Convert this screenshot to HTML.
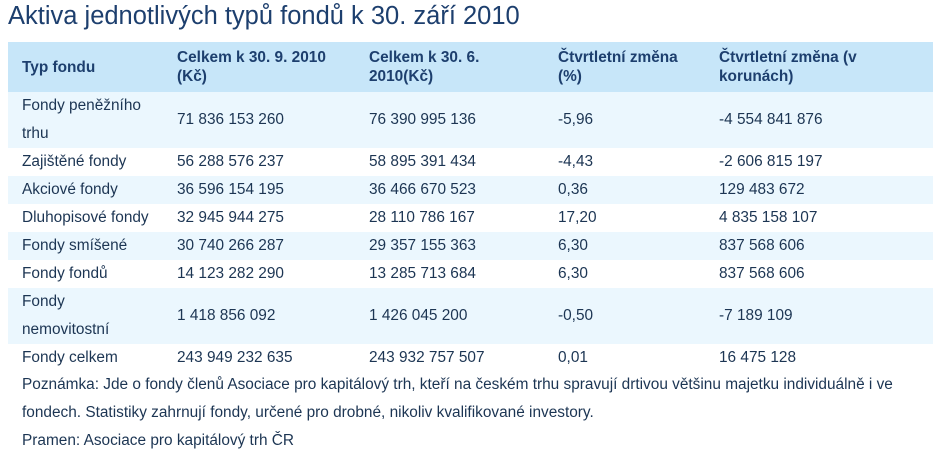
<!DOCTYPE html>
<html><head><meta charset="utf-8"><style>
body{margin:0;width:946px;height:460px;background:#fff;font-family:"Liberation Sans",Arial,sans-serif;color:#1c3553;position:relative;overflow:hidden}
.t{position:absolute;left:8px;top:2px;font-size:25.5px;color:#1d3f6e;white-space:nowrap}
.r{position:absolute;left:8px;width:925px}
.c{position:absolute;font-size:15.4px;line-height:28px;white-space:nowrap}
.h .c{font-weight:bold;line-height:19px;color:#1d3f6e;font-size:15.4px}
</style></head><body>
<div class="t">Aktiva jednotlivých typů fondů k 30. září 2010</div>
<div class="r h" style="top:42px;height:50px;background:#c7e6f9">
<div class="c" style="left:14px;top:16px">Typ fondu</div>
<div class="c" style="left:169px;top:6px">Celkem k 30. 9. 2010<br>(Kč)</div>
<div class="c" style="left:361px;top:6px">Celkem k 30. 6.<br>2010(Kč)</div>
<div class="c" style="left:550px;top:6px">Čtvrtletní změna<br>(%)</div>
<div class="c" style="left:711px;top:6px">Čtvrtletní změna (v<br>korunách)</div>
</div>
<div id="rows"></div>
<div class="c" style="left:22px;top:371px">Poznámka: Jde o fondy členů Asociace pro kapitálový trh, kteří na českém trhu spravují drtivou většinu majetku individuálně i ve</div>
<div class="c" style="left:22px;top:399px">fondech. Statistiky zahrnují fondy, určené pro drobné, nikoliv kvalifikované investory.</div>
<div class="c" style="left:22px;top:427px">Pramen: Asociace pro kapitálový trh ČR</div>
<script>
const names=["Fondy peněžního<br>trhu","Zajištěné fondy","Akciové fondy","Dluhopisové fondy","Fondy smíšené","Fondy fondů","Fondy<br>nemovitostní","Fondy celkem"];
const sep=["71 836 153 260","56 288 576 237","36 596 154 195","32 945 944 275","30 740 266 287","14 123 282 290","1 418 856 092","243 949 232 635"];
const jun=["76 390 995 136","58 895 391 434","36 466 670 523","28 110 786 167","29 357 155 363","13 285 713 684","1 426 045 200","243 932 757 507"];
const pct=["-5,96","-4,43","0,36","17,20","6,30","6,30","-0,50","0,01"];
const kc=["-4 554 841 876","-2 606 815 197","129 483 672","4 835 158 107","837 568 606","837 568 606","-7 189 109","16 475 128"];
const heights=[56,28,28,28,28,28,56,28];
const cont=document.getElementById('rows');
let y=92;
names.forEach((n,i)=>{
 const h=heights[i];
 const r=document.createElement('div');
 
 
 r.className='r';r.style.top=y+'px';r.style.height=h+'px';
 r.style.background=(i%2==0&&i<7)?'#ebf7fe':'#fff';
 const cells=[n,sep[i],jun[i],pct[i],kc[i]],lx=[14,169,361,550,711];
 cells.forEach((t,j)=>{const c=document.createElement('div');
  
  
  c.className='c';c.style.left=lx[j]+'px';
  c.style.top=(j==0?0:(h-28)/2)+'px';c.innerHTML=t;r.appendChild(c);});
 cont.appendChild(r);y+=h;
});
</script>
</body></html>
